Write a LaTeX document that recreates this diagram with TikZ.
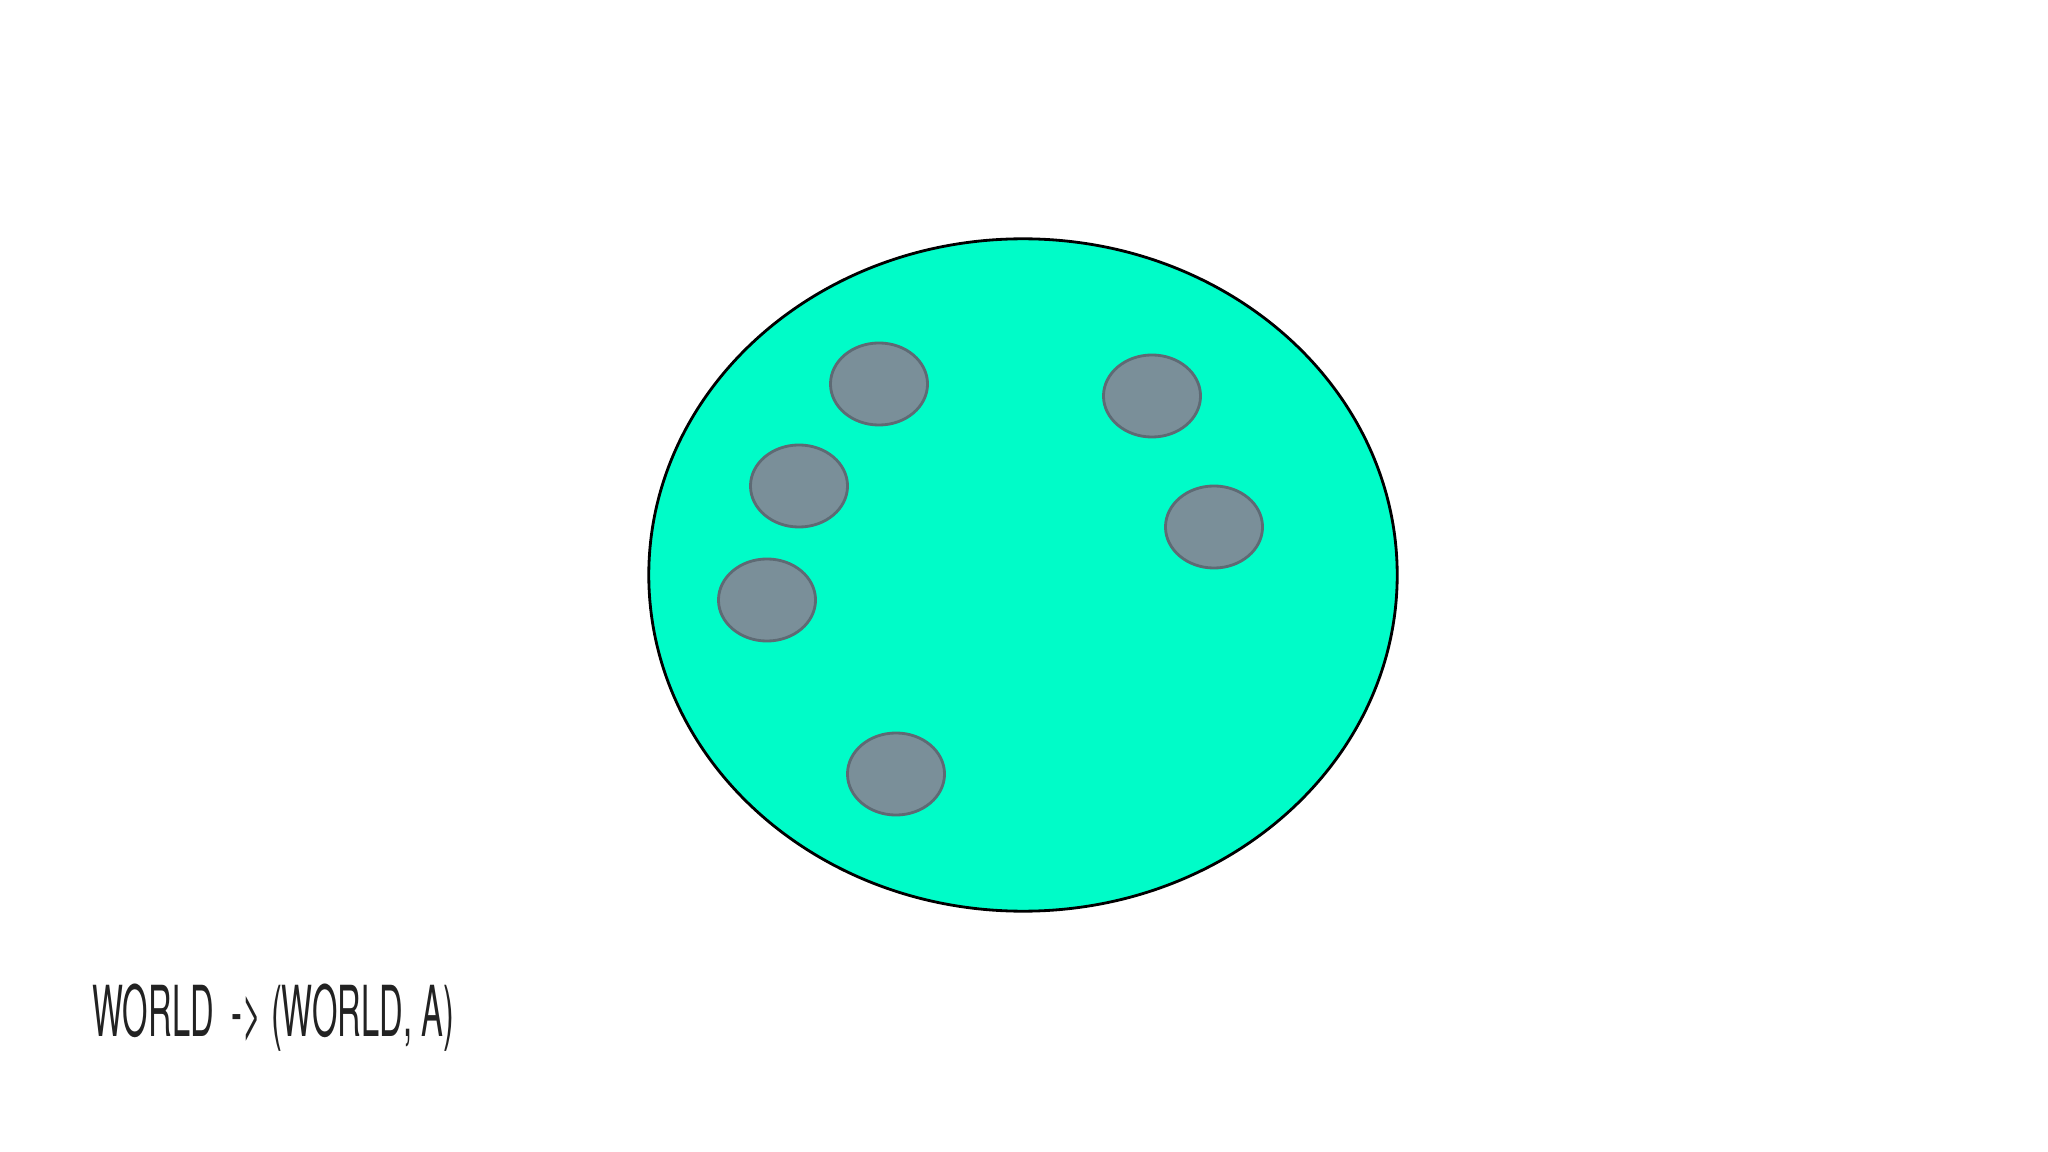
\documentclass[tikz,border=0pt]{standalone}
\usepackage{fontspec}
\setmainfont{TeX Gyre Heros}
\usetikzlibrary{shapes.geometric}
\definecolor{worldfill}{HTML}{00FCC8}
\definecolor{agentfill}{HTML}{7A8F99}
\definecolor{agentline}{HTML}{5E6A74}
\definecolor{inkcol}{HTML}{222222}
\tikzset{
  world/.style={ellipse, draw=black, line width=0.8pt, fill=worldfill, minimum width=7.48cm, minimum height=6.72cm, inner sep=0pt},
  agent/.style={ellipse, draw=agentline, line width=0.8pt, fill=agentfill, minimum width=0.97cm, minimum height=0.82cm, inner sep=0pt},
  caption/.style={anchor=west, inner sep=0pt, text=inkcol, font=\fontsize{20}{24}\selectfont}
}
\begin{document}
\begin{tikzpicture}[x=0.01cm, y=-0.01cm]
\useasboundingbox (0,0) rectangle (2048,1152);
\node[world] (w) at (1023,575) {};
\node[agent] (a1) at (879,384) {};
\node[agent] (a2) at (799,486) {};
\node[agent] (a3) at (767,600) {};
\node[agent] (a4) at (896,774) {};
\node[agent] (a5) at (1152,396) {};
\node[agent] (a6) at (1214,527) {};
\node[caption] (t) at (92,1018) {\scalebox{0.465}[1]{WORLD\ \ -> (WORLD, A)}};
\end{tikzpicture}
\end{document}
